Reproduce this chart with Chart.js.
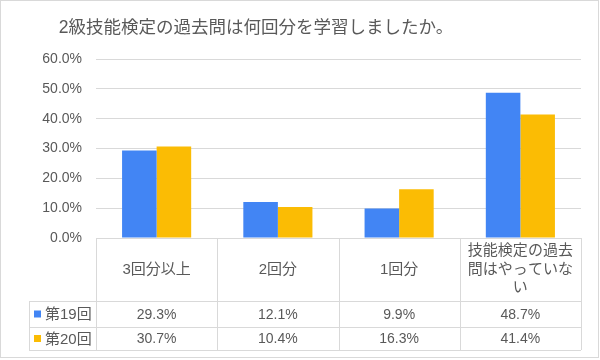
<!DOCTYPE html>
<html>
<head>
<meta charset="utf-8">
<script src="https://cdn.jsdelivr.net/npm/chart.js@4"></script>
<style>
  body { margin: 0; background: #fff; }
</style>
</head>
<body>
<canvas id="chart" width="600" height="360"></canvas>
<script>
const titleText = "2級技能検定の過去問は何回分を学習しましたか。";
const categories = ["3回分以上", "2回分", "1回分", ["技能検定の過去", "問はやっていな", "い"]];
const seriesNames = ["第19回", "第20回"];
const round19 = [29.3, 12.1, 9.9, 48.7];
const round20 = [30.7, 10.4, 16.3, 41.4];
const colors = ["#4285F4", "#FBBC04"];

const FONT = '"Liberation Sans", "Noto Sans CJK JP", sans-serif';
const TEXT = "#595959";
const LINE = "#d9d9d9";

// draws the title, the frame and the data table under the bars
const tablePlugin = {
  id: "table",
  beforeDraw(chart) {
    const c = chart.ctx;
    c.save();
    c.strokeStyle = LINE;
    c.lineWidth = 1;
    c.strokeRect(0.5, 0.5, 598, 357);
    c.fillStyle = TEXT;
    c.font = "17.5px " + FONT;
    c.textAlign = "center";
    c.textBaseline = "middle";
    c.fillText(titleText, 256, 28);
    c.restore();
  },
  afterDraw(chart) {
    const c = chart.ctx;
    const x = chart.scales.x;
    const area = chart.chartArea;
    const colW = (area.right - area.left) / categories.length;
    const top = area.bottom;
    const catBottom = 301, row1 = 327, row2 = 350, legLeft = 29;

    c.save();
    c.strokeStyle = LINE;
    c.lineWidth = 1;
    c.beginPath();
    // horizontal lines
    c.moveTo(area.left, top + 0.5); c.lineTo(area.right, top + 0.5);
    [catBottom, row1, row2].forEach(y => {
      c.moveTo(legLeft, y + 0.5); c.lineTo(area.right, y + 0.5);
    });
    // vertical lines
    for (let i = 0; i <= categories.length; i++) {
      const px = Math.round(area.left + i * colW) + 0.5;
      c.moveTo(px, top); c.lineTo(px, row2);
    }
    c.moveTo(legLeft + 0.5, catBottom); c.lineTo(legLeft + 0.5, row2);
    c.stroke();

    c.fillStyle = TEXT;
    c.textAlign = "center";
    c.textBaseline = "middle";
    // category labels
    c.font = "15px " + FONT;
    categories.forEach((cat, i) => {
      const cx = x.getPixelForValue(i);
      const lines = Array.isArray(cat) ? cat : [cat];
      const mid = (top + catBottom) / 2;
      lines.forEach((ln, j) => {
        c.fillText(ln, cx, mid + (j - (lines.length - 1) / 2) * 18.5);
      });
    });
    // values
    const rows = [round19, round20];
    const rowMid = [(catBottom + row1) / 2, (row1 + row2) / 2];
    rows.forEach((vals, r) => {
      c.font = "14px " + FONT;
      c.textAlign = "center";
      c.fillStyle = TEXT;
      vals.forEach((v, i) => {
        c.fillText(v.toFixed(1) + "%", x.getPixelForValue(i), rowMid[r] + 1);
      });
      // legend key
      c.fillStyle = colors[r];
      c.fillRect(34, rowMid[r] - 3.5, 7, 7);
      c.fillStyle = TEXT;
      c.textAlign = "left";
      c.font = "15px " + FONT;
      c.fillText(seriesNames[r], 45, rowMid[r] + 1);
    });
    c.restore();
  }
};

new Chart(document.getElementById("chart"), {
  type: "bar",
  data: {
    labels: categories.map(c => Array.isArray(c) ? c.join("") : c),
    datasets: [
      { label: seriesNames[0], data: round19, backgroundColor: colors[0] },
      { label: seriesNames[1], data: round20, backgroundColor: colors[1] }
    ]
  },
  options: {
    responsive: false,
    animation: false,
    devicePixelRatio: 1,
    layout: { padding: { left: 0, right: 19, top: 59, bottom: 122 } },
    datasets: { bar: { categoryPercentage: 0.57, barPercentage: 1 } },
    plugins: { legend: { display: false }, tooltip: { enabled: false } },
    scales: {
      x: { display: false },
      y: {
        min: 0, max: 60,
        afterFit(scale) { scale.width = 96; },
        border: { display: false },
        grid: { color: LINE, drawTicks: false },
        ticks: {
          stepSize: 10, padding: 14, color: TEXT,
          font: { size: 14, family: FONT },
          callback: v => v.toFixed(1) + "%"
        }
      }
    }
  },
  plugins: [tablePlugin]
});
</script>
</body>
</html>
